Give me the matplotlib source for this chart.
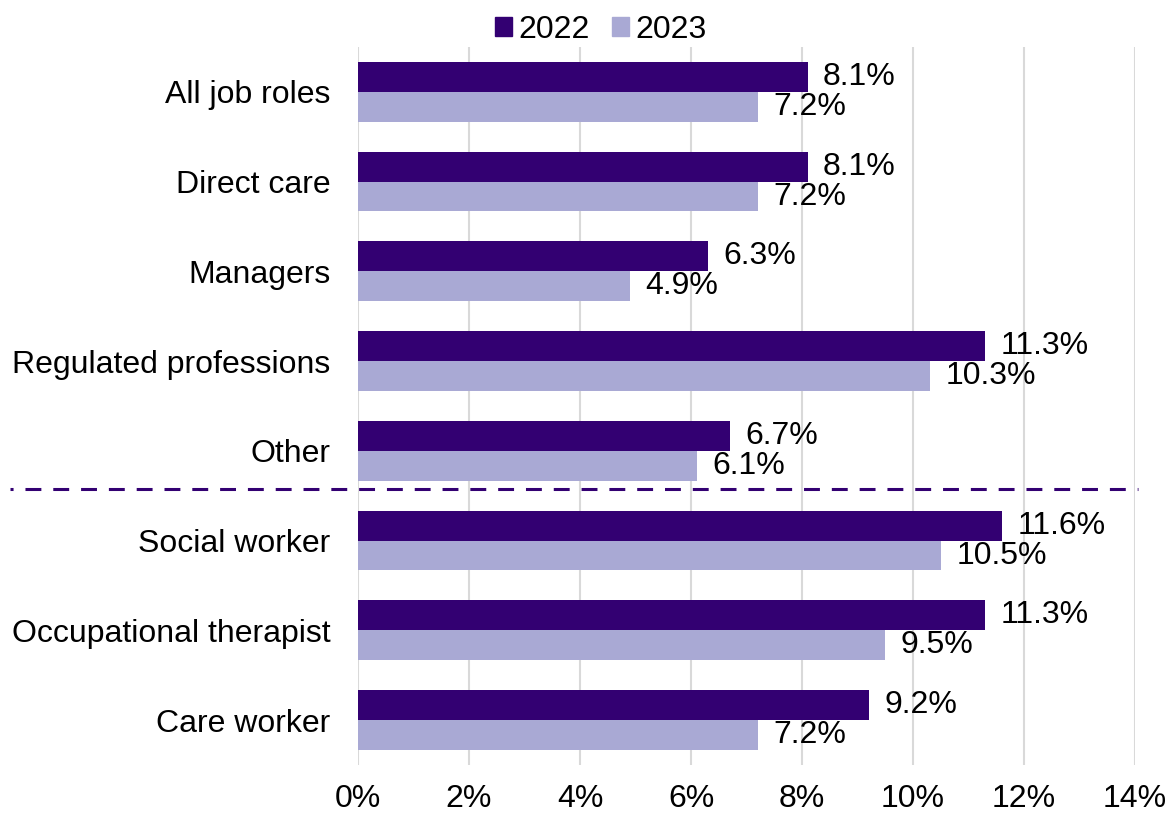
import matplotlib.pyplot as plt
import numpy as np
from matplotlib.patches import Patch
from matplotlib.lines import Line2D

plt.rcParams['font.family'] = ['Liberation Sans', 'DejaVu Sans']

# 数据
roles = ['All job roles', 'Direct care', 'Managers', 'Regulated professions', 'Other',
         'Social worker', 'Occupational therapist', 'Care worker']
rate_2022 = [8.1, 8.1, 6.3, 11.3, 6.7, 11.6, 11.3, 9.2]
rate_2023 = [7.2, 7.2, 4.9, 10.3, 6.1, 10.5, 9.5, 7.2]
xticks = [0, 2, 4, 6, 8, 10, 12, 14]

colors = {'2022': '#330072', '2023': '#A9A9D4'}
fs = 23

fig = plt.figure(figsize=(11.71, 8.16), dpi=100)
ax = fig.add_axes([0.3057, 0.0625, 0.6636, 0.88])

y = np.arange(len(roles))
h = 0.333
ax.barh(y - h / 2, rate_2022, height=h, color=colors['2022'], zorder=3)
ax.barh(y + h / 2, rate_2023, height=h, color=colors['2023'], zorder=3)

for yi, v in zip(y, rate_2022):
    ax.text(v + 0.28, yi - h / 2, f'{v:.1f}%', va='center', ha='left', fontsize=fs)
for yi, v in zip(y, rate_2023):
    ax.text(v + 0.28, yi + h / 2, f'{v:.1f}%', va='center', ha='left', fontsize=fs)

ax.set_ylim(len(roles) - 0.5, -0.5)
ax.set_xlim(0, 14)
ax.set_yticks(y)
ax.set_yticklabels(roles, fontsize=fs)
ax.set_xticks(xticks)
ax.set_xticklabels([f'{t}%' for t in xticks], fontsize=fs)
ax.tick_params(axis='y', length=0, pad=20)
ax.tick_params(axis='x', length=0, pad=14)
ax.grid(axis='x', color='#D9D9D9', linewidth=1.5, zorder=0)
for s in ax.spines.values():
    s.set_visible(False)

# 分隔虚线（总体类别与具体岗位）
ax.add_line(Line2D([-6.27, 14.05], [4.43, 4.43], color=colors['2022'], linewidth=2.2,
                   linestyle=(4.2, (5.2, 3.9)), clip_on=False, zorder=4))

handles = [Patch(color=colors['2022'], label='2022'), Patch(color=colors['2023'], label='2023')]
fig.legend(handles=handles, loc='center', bbox_to_anchor=(0.513, 0.963), ncol=2, frameon=False,
           fontsize=fs, handlelength=0.53, handleheight=0.53, handletextpad=0.2, columnspacing=0.7)

plt.savefig('out.png', dpi=100)
